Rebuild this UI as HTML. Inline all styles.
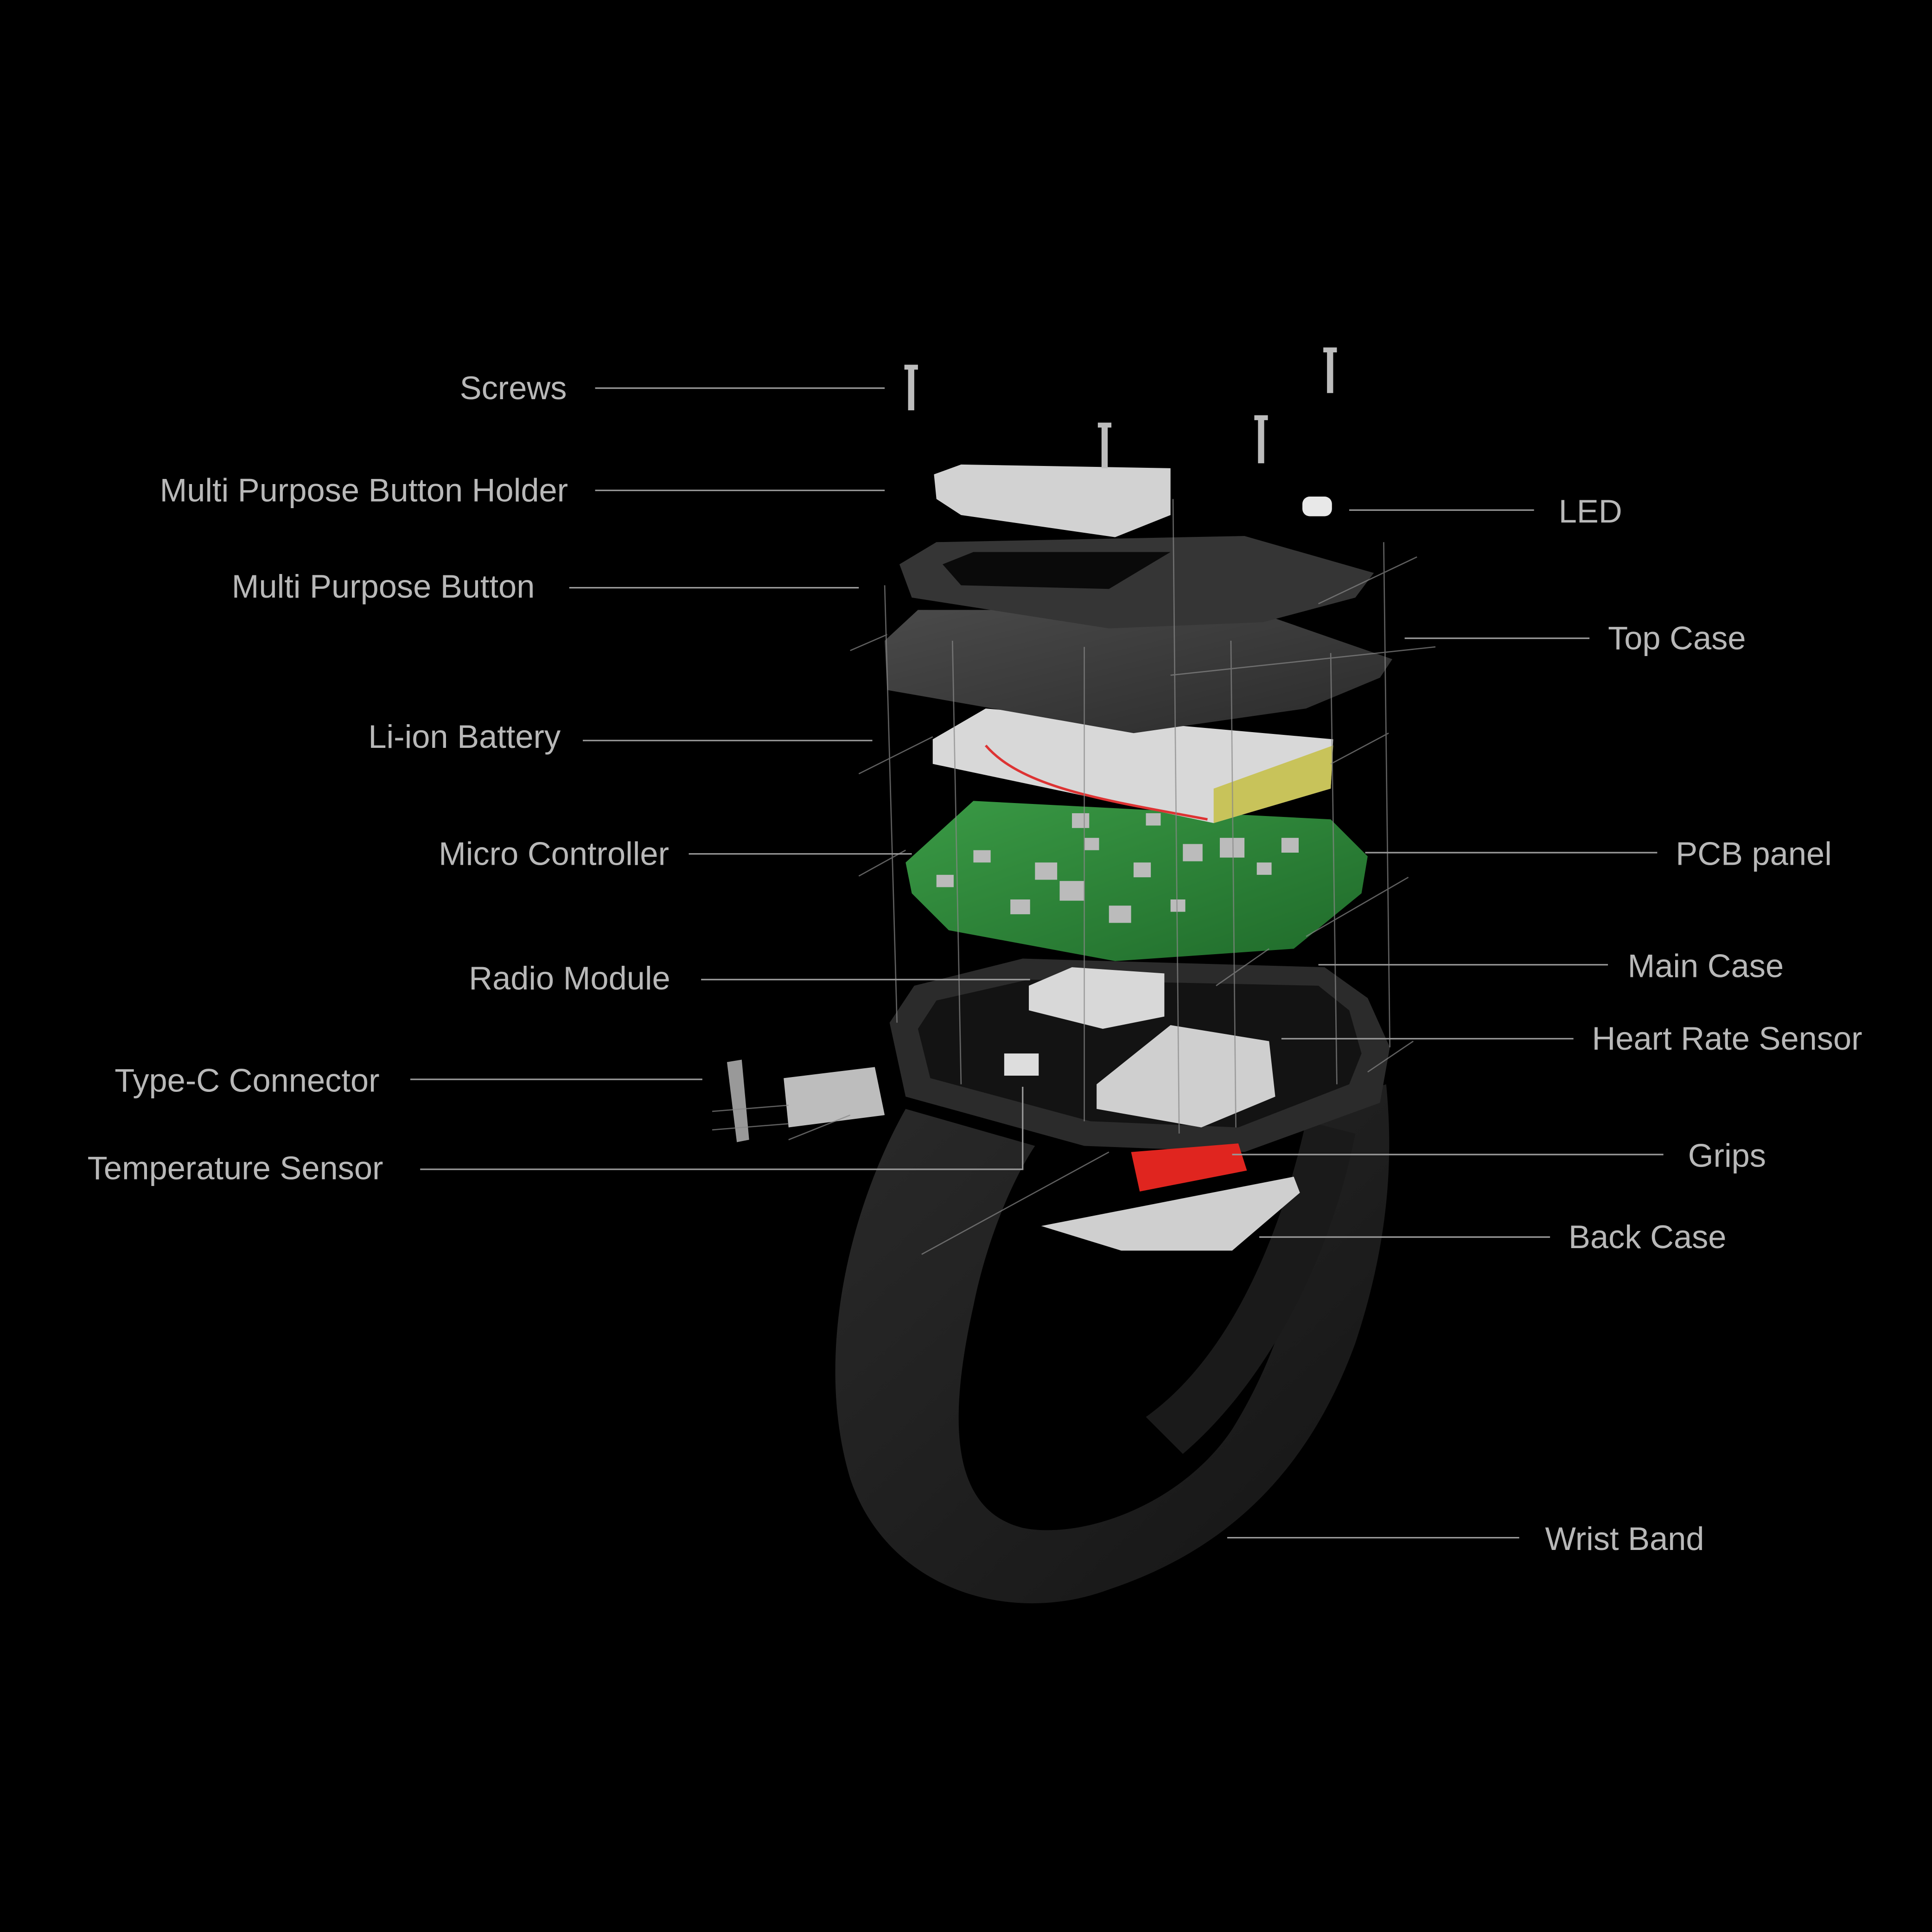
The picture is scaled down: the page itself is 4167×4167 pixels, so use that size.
<!DOCTYPE html>
<html><head><meta charset="utf-8"><style>
html,body{margin:0;padding:0;background:#000;}
svg{display:block;}
text{font-family:"Liberation Sans",sans-serif;font-size:26.5px;fill:#b8b8b8;}
</style></head><body>
<svg width="4167" height="4167" viewBox="0 0 1568 1568" xmlns="http://www.w3.org/2000/svg">
<rect width="1568" height="1568" fill="#000"/>
<defs>
<linearGradient id="band" x1="0" y1="0" x2="1" y2="1"><stop offset="0" stop-color="#2a2a2a"/><stop offset="1" stop-color="#141414"/></linearGradient>
<linearGradient id="pcb" x1="0" y1="0" x2="1" y2="1"><stop offset="0" stop-color="#3a9a45"/><stop offset="1" stop-color="#1f6a2a"/></linearGradient>
<linearGradient id="top" x1="0" y1="0" x2="1" y2="1"><stop offset="0" stop-color="#4a4a4a"/><stop offset="1" stop-color="#2a2a2a"/></linearGradient>
</defs>
<path d="M735,900 C690,980 660,1100 690,1200 C720,1290 820,1320 900,1290 C990,1260 1060,1200 1100,1090 C1130,1000 1130,930 1125,880 L1060,900 C1070,980 1050,1080 1000,1160 C960,1220 880,1250 830,1240 C770,1225 770,1150 790,1060 C800,1010 820,960 840,930 Z" fill="url(#band)"/>
<path d="M1060,910 C1040,1000 1000,1100 930,1150 L960,1180 C1030,1120 1080,1020 1100,920 Z" fill="#1a1a1a"/>
<polygon points="845,995 1050,955 1055,968 1000,1015 910,1015" fill="#cfcfcf"/>
<polygon points="722,830 742,800 830,778 1075,785 1110,810 1128,850 1120,895 1010,935 880,930 735,890" fill="#2b2b2b"/>
<polygon points="745,835 760,812 835,795 1070,800 1095,820 1105,855 1095,880 1005,915 885,910 755,875" fill="#131313"/>
<polygon points="835,800 870,785 945,790 945,825 895,835 835,820" fill="#d8d8d8"/>
<rect x="815" y="855" width="28" height="18" fill="#ddd"/>
<polygon points="890,880 950,832 1030,845 1035,890 975,915 890,900" fill="#cfcfcf"/>
<polygon points="918,935 1005,928 1012,950 925,967" fill="#e0251f"/>
<polygon points="590,862 602,860 608,925 598,927" fill="#999"/>
<polygon points="636,875 710,866 718,905 640,915" fill="#bdbdbd"/>
<polygon points="735,700 790,650 1080,665 1110,695 1105,725 1050,770 905,780 770,755 740,725" fill="url(#pcb)"/>
<g fill="#bbb">
<rect x="790" y="690" width="14" height="10"/><rect x="840" y="700" width="18" height="14"/><rect x="880" y="680" width="12" height="10"/>
<rect x="860" y="715" width="20" height="16"/><rect x="920" y="700" width="14" height="12"/><rect x="960" y="685" width="16" height="14"/>
<rect x="990" y="680" width="20" height="16"/><rect x="1020" y="700" width="12" height="10"/><rect x="900" y="735" width="18" height="14"/>
<rect x="950" y="730" width="12" height="10"/><rect x="820" y="730" width="16" height="12"/><rect x="760" y="710" width="14" height="10"/>
<rect x="1040" y="680" width="14" height="12"/><rect x="930" y="660" width="12" height="10"/><rect x="870" y="660" width="14" height="12"/>
</g>
<polygon points="757,600 800,575 1082,600 1080,640 985,668 757,620" fill="#d8d8d8"/>
<polygon points="985,640 1082,605 1080,640 985,668" fill="#c8c35a"/>
<path d="M800,605 C830,640 900,650 980,665" stroke="#d33" stroke-width="2" fill="none"/>
<polygon points="718,520 745,495 1015,495 1130,535 1120,550 1060,575 920,595 720,560" fill="url(#top)"/>
<polygon points="730,458 760,440 1010,435 1115,465 1100,485 1025,505 900,510 740,485" fill="#353535"/>
<polygon points="765,458 790,448 950,448 900,478 780,475" fill="#0a0a0a"/>
<polygon points="758,385 780,377 950,380 950,418 905,436 780,418 760,405" fill="#d2d2d2"/>
<rect x="1057" y="403" width="24" height="16" rx="6" fill="#e8e8e8"/>
<g fill="#bdbdbd">
<rect x="737" y="297" width="5" height="36"/><rect x="734" y="296" width="11" height="4"/>
<rect x="894" y="344" width="5" height="36"/><rect x="891" y="343" width="11" height="4"/>
<rect x="1021" y="338" width="5" height="38"/><rect x="1018" y="337" width="11" height="4"/>
<rect x="1077" y="283" width="5" height="36"/><rect x="1074" y="282" width="11" height="4"/>
</g>
<g stroke="#888" stroke-width="1" opacity="0.7">
<line x1="718" y1="475" x2="728" y2="830"/><line x1="773" y1="520" x2="780" y2="880"/>
<line x1="880" y1="525" x2="880" y2="910"/><line x1="952" y1="405" x2="957" y2="920"/>
<line x1="999" y1="520" x2="1003" y2="915"/><line x1="1080" y1="530" x2="1085" y2="880"/>
<line x1="1123" y1="440" x2="1128" y2="850"/>
<line x1="690" y1="528" x2="720" y2="515"/><line x1="697" y1="628" x2="757" y2="598"/>
<line x1="697" y1="711" x2="735" y2="690"/><line x1="1150" y1="452" x2="1070" y2="490"/>
<line x1="1165" y1="525" x2="950" y2="548"/><line x1="1127" y1="595" x2="1080" y2="620"/>
<line x1="1143" y1="712" x2="1060" y2="760"/><line x1="1030" y1="770" x2="987" y2="800"/>
<line x1="1147" y1="845" x2="1110" y2="870"/><line x1="900" y1="935" x2="748" y2="1018"/>
<line x1="578" y1="902" x2="640" y2="897"/><line x1="578" y1="917" x2="640" y2="912"/><line x1="640" y1="925" x2="690" y2="905"/>
</g>
<g stroke="#9a9a9a" stroke-width="1.2" fill="none">
<line x1="483" y1="315" x2="718" y2="315"/><line x1="483" y1="398" x2="718" y2="398"/>
<line x1="462" y1="477" x2="697" y2="477"/><line x1="473" y1="601" x2="708" y2="601"/>
<line x1="559" y1="693" x2="740" y2="693"/><line x1="569" y1="795" x2="836" y2="795"/>
<line x1="333" y1="876" x2="570" y2="876"/><polyline points="341,949 830,949 830,882"/>
<line x1="1095" y1="414" x2="1245" y2="414"/><line x1="1140" y1="518" x2="1290" y2="518"/>
<line x1="1108" y1="692" x2="1345" y2="692"/><line x1="1070" y1="783" x2="1305" y2="783"/>
<line x1="1040" y1="843" x2="1277" y2="843"/><line x1="1000" y1="937" x2="1350" y2="937"/>
<line x1="1022" y1="1004" x2="1258" y2="1004"/><line x1="996" y1="1248" x2="1233" y2="1248"/>
</g>
<g text-anchor="end">
<text x="460" y="324">Screws</text>
<text x="461" y="407">Multi Purpose Button Holder</text>
<text x="434" y="485">Multi Purpose Button</text>
<text x="455" y="607">Li-ion Battery</text>
<text x="543" y="702">Micro Controller</text>
<text x="544" y="803">Radio Module</text>
<text x="308" y="886">Type-C Connector</text>
<text x="311" y="957">Temperature Sensor</text>
</g>
<text x="1265" y="424">LED</text>
<text x="1305" y="527">Top Case</text>
<text x="1360" y="702">PCB panel</text>
<text x="1321" y="793">Main Case</text>
<text x="1292" y="852">Heart Rate Sensor</text>
<text x="1370" y="947">Grips</text>
<text x="1273" y="1013">Back Case</text>
<text x="1254" y="1258">Wrist Band</text>
</svg>
</body></html>
